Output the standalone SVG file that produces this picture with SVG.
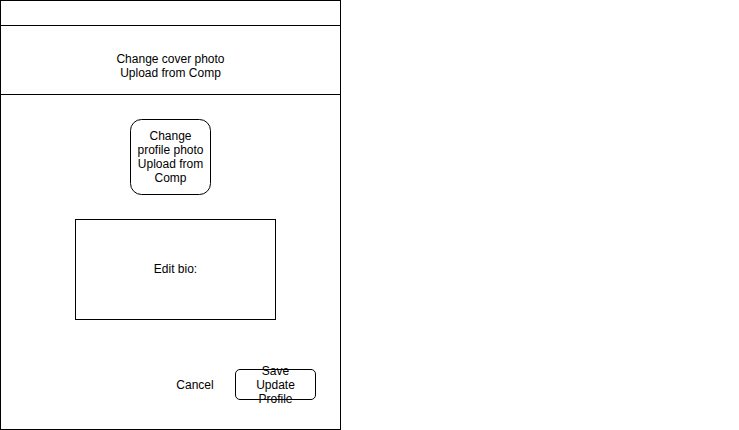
<svg xmlns="http://www.w3.org/2000/svg" width="739" height="430" viewBox="0 0 739 430">
<style>
.s{fill:#fff;stroke:#000;stroke-width:1}
.t{font-family:"Liberation Sans",Arial,sans-serif;font-size:12px;fill:#000;text-anchor:middle}
</style>
<rect x="0" y="0" width="739" height="430" fill="#fff"/>
<g id="frame"><rect class="s" x="0.5" y="0.5" width="340" height="429"/></g>
<g id="cover">
<rect class="s" x="0.5" y="25.5" width="340" height="69"/>
<text class="t" x="170.5" y="63">Change cover photo</text>
<text class="t" x="170.5" y="77">Upload from Comp</text>
</g>
<g id="profile">
<rect class="s" x="130.5" y="119.5" width="80" height="75" rx="11" ry="11"/>
<text class="t" x="170.5" y="140">Change</text>
<text class="t" x="170.5" y="154">profile photo</text>
<text class="t" x="170.5" y="168">Upload from</text>
<text class="t" x="170.5" y="182">Comp</text>
</g>
<g id="bio">
<rect class="s" x="75.5" y="219.5" width="200" height="100"/>
<text class="t" x="175.5" y="273">Edit bio:</text>
</g>
<g id="cancel"><text class="t" x="195" y="389">Cancel</text></g>
<g id="save">
<rect class="s" x="235.5" y="369.5" width="80" height="30" rx="4.5" ry="4.5"/>
<text class="t" x="275.5" y="375">Save</text>
<text class="t" x="275.5" y="389">Update</text>
<text class="t" x="275.5" y="403">Profile</text>
</g>
<g id="connectors"></g>
</svg>
